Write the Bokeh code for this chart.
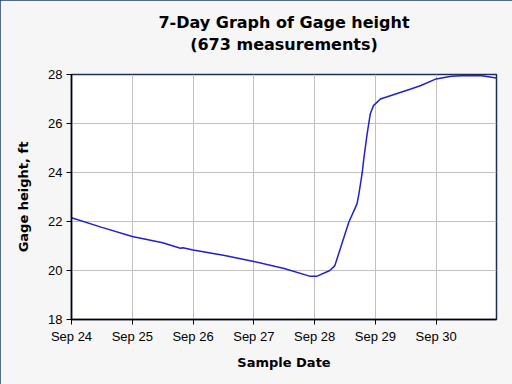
from datetime import datetime
from bokeh.plotting import figure
from bokeh.models import DatetimeTickFormatter, FixedTicker, Range1d, Title
from bokeh.embed import file_html
from bokeh.resources import INLINE

times = [
    "2010-09-24 00:00", "2010-09-24 12:00", "2010-09-25 00:00", "2010-09-25 12:00",
    "2010-09-25 19:00", "2010-09-25 20:00", "2010-09-26 00:00", "2010-09-26 12:00",
    "2010-09-27 00:00", "2010-09-27 12:00", "2010-09-27 22:00", "2010-09-28 01:00",
    "2010-09-28 06:00", "2010-09-28 08:00", "2010-09-28 11:00", "2010-09-28 13:30",
    "2010-09-28 16:45", "2010-09-28 17:30", "2010-09-28 18:45", "2010-09-28 19:30",
    "2010-09-28 20:45", "2010-09-28 22:00", "2010-09-28 23:15", "2010-09-29 02:00",
    "2010-09-29 14:00", "2010-09-29 18:00", "2010-09-30 00:00", "2010-09-30 06:00",
    "2010-09-30 12:00", "2010-09-30 18:00", "2010-09-30 23:45",
]
gage_height = [
    22.15, 21.76, 21.39, 21.13,
    20.91, 20.93, 20.84, 20.62,
    20.37, 20.08, 19.77, 19.77,
    20.00, 20.20, 21.16, 21.97,
    22.72, 23.13, 23.95, 24.62,
    25.58, 26.40, 26.73, 27.00,
    27.41, 27.55, 27.82, 27.93,
    27.96, 27.95, 27.86,
]
tick_dates = ["2010-09-24", "2010-09-25", "2010-09-26", "2010-09-27",
              "2010-09-28", "2010-09-29", "2010-09-30"]
y_ticks = [18, 20, 22, 24, 26, 28]
title_lines = ["7-Day Graph of Gage height", "(673 measurements)"]

x = [datetime.strptime(t, "%Y-%m-%d %H:%M") for t in times]
xt = [datetime.strptime(t, "%Y-%m-%d").timestamp() * 1000 for t in tick_dates]

p = figure(width=512, height=384, x_axis_type="datetime",
           output_backend="svg", toolbar_location=None,
           x_range=Range1d(datetime(2010, 9, 24, 0, 0), datetime(2010, 9, 30, 23, 50)),
           y_range=Range1d(18, 28))
p.min_border_left = 71
p.min_border_right = 16
p.min_border_top = 74
p.min_border_bottom = 65
p.styles = {"outline": "2px solid #1c3c6c", "outline-offset": "-2px"}

# titles: first added sits nearest the plot
spacer = Title(text=" ", text_font_size="1px", standoff=16)
sub = Title(text=title_lines[1], align="center", text_font="DejaVu Sans",
            text_font_size="16px", text_font_style="bold", text_color="#000000",
            standoff=3)
main = Title(text=title_lines[0], align="center", text_font="DejaVu Sans",
             text_font_size="16px", text_font_style="bold", text_color="#000000",
             standoff=0)
p.add_layout(spacer, "above")
p.add_layout(sub, "above")
p.add_layout(main, "above")

p.border_fill_color = "#f6f6f6"
p.background_fill_color = "#ffffff"
p.outline_line_color = "#1c2f50"
p.outline_line_width = 1.5

p.line(x, gage_height, line_color="#2020d0", line_width=1.5)

p.xaxis.ticker = FixedTicker(ticks=xt)
p.xaxis.formatter = DatetimeTickFormatter(days="%b %d", months="%b %d", hours="%b %d")
p.yaxis.ticker = FixedTicker(ticks=y_ticks)

for ax in (p.xaxis[0], p.yaxis[0]):
    ax.major_label_text_font = "Liberation Sans"
    ax.major_label_text_font_size = "13px"
    ax.major_label_text_color = "#000000"
    ax.axis_line_color = "#000000"
    ax.axis_line_width = 1.5
    ax.major_tick_line_color = "#000000"
    ax.major_tick_out = 5
    ax.major_tick_in = 0
    ax.minor_tick_line_color = None
    ax.axis_label_text_font = "DejaVu Sans"
    ax.axis_label_text_font_size = "13px"
    ax.axis_label_text_font_style = "bold"
    ax.axis_label_text_color = "#000000"
    ax.major_label_standoff = 4

p.xaxis.axis_label_standoff = 8
p.yaxis.axis_label_standoff = 14
p.xaxis.axis_label = "Sample Date"
p.yaxis.axis_label = "Gage height, ft"

p.grid.grid_line_color = "#c0c0c0"
p.grid.grid_line_width = 1

open("out.html", "w").write(file_html(p, INLINE))
